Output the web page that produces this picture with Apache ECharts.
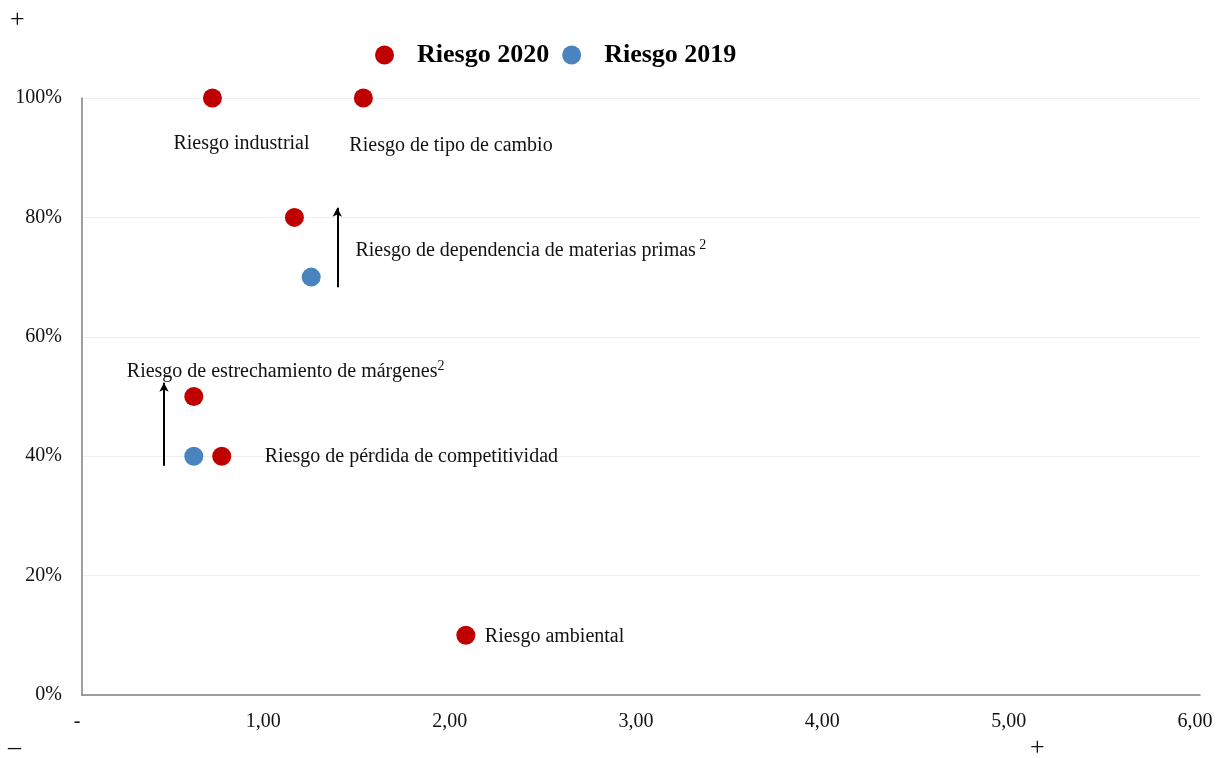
<!DOCTYPE html>
<html>
<head>
<meta charset="utf-8">
<script src="https://cdn.jsdelivr.net/npm/echarts@6/dist/echarts.min.js"></script>
<style>html,body{margin:0;padding:0;background:#fff}#c{width:1230px;height:758px}</style>
</head>
<body>
<div id="c"></div>
<script>
const seriesNames = ['Riesgo 2020', 'Riesgo 2019'];
const names2020 = ['Riesgo industrial', 'Riesgo de tipo de cambio', 'Riesgo de dependencia de materias primas', 'Riesgo de estrechamiento de márgenes', 'Riesgo de pérdida de competitividad', 'Riesgo ambiental'];
const x2020 = [0.70, 1.51, 1.14, 0.60, 0.75, 2.06];
const y2020 = [100, 100, 80, 50, 40, 10];
const notes2020 = ['', '', '2', '2', '', ''];
const names2019 = ['Riesgo de dependencia de materias primas', 'Riesgo de estrechamiento de márgenes'];
const x2019 = [1.23, 0.60];
const y2019 = [70, 40];
const arrowFrom = [[1.37, 68.3], [0.44, 38.4]];
const arrowTo = [[1.37, 81.6], [0.44, 52.3]];
const xTicks = [0, 1, 2, 3, 4, 5, 6];
const yTicks = [0, 20, 40, 60, 80, 100];

const FONT = '"Liberation Serif", "Times New Roman", serif';
const RED = '#C00000';
const BLUE = '#4A84BF';
const TXT = '#111';

// label offsets (style, by point index)
const labelOffsets = [[-39, 46], [-14, 48], [61, 33], [-67, -25], [43, 1], [19, 1]];
const labelSpace = ['', '', ' ', '', '', ''];

const chart = echarts.init(document.getElementById('c'));
const data2020 = names2020.map((n, i) => ({
  name: n,
  value: [x2020[i], y2020[i]],
  label: {
    show: true,
    position: 'inside',
    align: 'left',
    verticalAlign: 'middle',
    offset: labelOffsets[i],
    formatter: () => '{t|' + n + '}' + (notes2020[i] ? labelSpace[i] + '{s|' + notes2020[i] + '}' : ''),
    rich: {
      t: { fontFamily: FONT, fontSize: 20, color: TXT },
      s: { fontFamily: FONT, fontSize: 14, color: TXT, verticalAlign: 'top', padding: [0, 0, 10, 0] }
    }
  }
}));
const data2019 = names2019.map((n, i) => ({ name: n, value: [x2019[i], y2019[i]] }));
const arrowData = arrowFrom.map((f, i) => [{ coord: f }, { coord: arrowTo[i] }]);

chart.setOption({
  animation: false,
  grid: { left: 82, right: 30, top: 98, bottom: 63, containLabel: false },
  legend: {
    left: 370, top: 37,
    itemWidth: 21, itemHeight: 19, itemGap: 13,
    icon: 'circle',
    data: seriesNames,
    textStyle: { fontFamily: FONT, fontSize: 26, fontWeight: 'bold', color: '#000', padding: [0, 0, 0, 17] }
  },
  xAxis: {
    type: 'value', min: 0, max: 6, interval: 1,
    axisLine: { show: true, lineStyle: { color: '#808080', width: 1.5 } },
    axisTick: { show: false },
    splitLine: { show: false },
    axisLabel: {
      margin: 17, color: TXT, fontFamily: FONT, fontSize: 20,
      padding: [0, 10, 0, 0],
      formatter: v => v === 0 ? '-' : v.toFixed(2).replace('.', ',')
    }
  },
  yAxis: {
    type: 'value', min: 0, max: 100, interval: 20,
    axisLine: { show: true, lineStyle: { color: '#808080', width: 1.5 } },
    axisTick: { show: false },
    splitLine: { show: true, lineStyle: { color: '#EFEFEF', width: 1 } },
    axisLabel: { margin: 20, color: TXT, fontFamily: FONT, fontSize: 20, formatter: v => v + '%' }
  },
  graphic: [
    { type: 'text', left: 10, top: 7, style: { text: '+', fontFamily: FONT, fontSize: 26, fill: TXT } },
    { type: 'text', left: 8, top: 735, style: { text: '–', fontFamily: FONT, fontSize: 26, fill: TXT } },
    { type: 'text', left: 1030, top: 735, style: { text: '+', fontFamily: FONT, fontSize: 26, fill: TXT } }
  ],
  series: [
    {
      name: seriesNames[0], type: 'scatter', symbol: 'circle', symbolSize: 19,
      itemStyle: { color: RED, opacity: 1 },
      data: data2020,
      z: 3
    },
    {
      name: seriesNames[1], type: 'scatter', symbol: 'circle', symbolSize: 19,
      itemStyle: { color: BLUE, opacity: 1 },
      data: data2019,
      markLine: {
        silent: true,
        symbol: ['none', 'arrow'],
        symbolSize: [7, 9],
        label: { show: false },
        lineStyle: { color: '#000', width: 2, type: 'solid' },
        data: arrowData
      },
      z: 3
    }
  ]
});
</script>
</body>
</html>
